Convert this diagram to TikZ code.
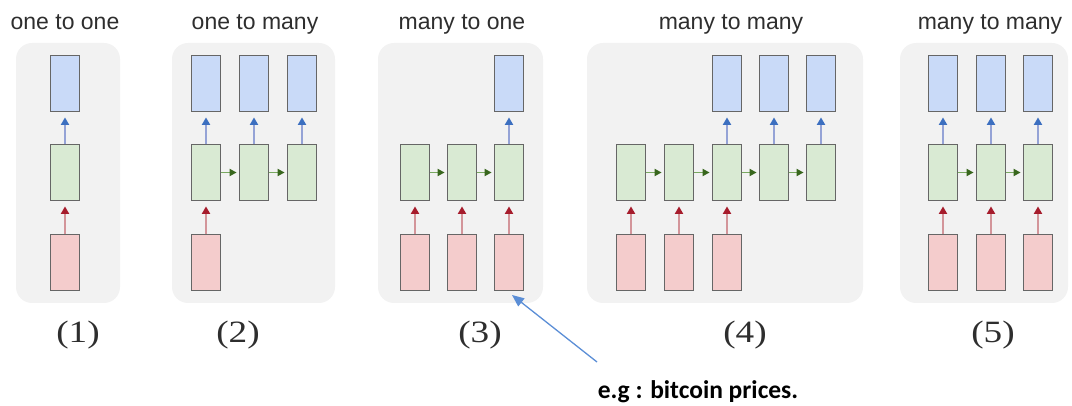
\documentclass[tikz,border=0pt]{standalone}
\usepackage{fontspec}
\newfontfamily\titlefont{Liberation Sans}
\newfontfamily\numfont{Liberation Serif}
\newfontfamily\notefont{Carlito}
\usetikzlibrary{arrows.meta,calc}

\definecolor{panelbg}{HTML}{F2F2F2}
\definecolor{cellline}{HTML}{666666}
\definecolor{outfill}{HTML}{C9DAF8}
\definecolor{hidfill}{HTML}{D9EAD3}
\definecolor{infill}{HTML}{F4CCCC}
\definecolor{outshaft}{HTML}{95A3D6}
\definecolor{outhead}{HTML}{3C6FC0}
\definecolor{inshaft}{HTML}{D3959A}
\definecolor{inhead}{HTML}{A61C2C}
\definecolor{hidshaft}{HTML}{78A860}
\definecolor{hidhead}{HTML}{38661D}
\definecolor{titlegray}{HTML}{2E2E2E}
\definecolor{noteblue}{HTML}{5B8ED6}

\tikzset{
  cell/.style={draw=cellline, line width=1.8pt, minimum width=29pt,
    minimum height=56pt, inner sep=0pt},
  outcell/.style={cell, fill=outfill},
  hidcell/.style={cell, fill=hidfill},
  incell/.style={cell, fill=infill},
  panel/.style={fill=panelbg, rounded corners=16pt},
  toout/.style={draw=outshaft, line width=1.9pt,
    -{Triangle[length=7.5pt,width=8pt,color=outhead]}, shorten >=5pt},
  fromin/.style={draw=inshaft, line width=1.9pt,
    -{Triangle[length=7.5pt,width=8pt,color=inhead]}, shorten >=5pt},
  recur/.style={draw=hidshaft, line width=1.9pt,
    -{Triangle[length=7pt,width=7pt,color=hidhead]}, shorten >=2pt},
  title/.style={anchor=base, text=titlegray, font=\titlefont\fontsize{23}{27}\selectfont},
  tag/.style={anchor=base, text=titlegray, font=\numfont\fontsize{31}{35}\selectfont},
  note/.style={anchor=base, text=black, font=\notefont\bfseries\fontsize{25.5}{30}\selectfont},
}

\begin{document}
\begin{tikzpicture}[x=1pt, y=-1pt]
\useasboundingbox (0,0) rectangle (1072,406);

% panel backgrounds
\fill[panel] (16,43) rectangle (120,303);
\fill[panel] (172,43) rectangle (335,303);
\fill[panel] (378,43) rectangle (543,303);
\fill[panel] (587,43) rectangle (863,303);
\fill[panel] (900,43) rectangle (1068,303);

% titles
\node[title] (t1) at (65,30) {one to one};
\node[title] (t2) at (255,30) {one to many};
\node[title] (t3) at (462,30) {many to one};
\node[title] (t4) at (731,30) {many to many};
\node[title] (t5) at (990,30) {many to many};

% (1) one to one
\node[outcell] (o1) at (65,83.5) {};
\node[hidcell] (h1) at (65,172.5) {};
\node[incell]  (i1) at (65,262.5) {};
\draw[toout] (h1) -- (o1);
\draw[fromin] (i1) -- (h1);

% (2) one to many
\foreach \x/\n in {206/a,254/b,302/c}{
  \node[outcell] (o2\n) at (\x,83.5) {};
  \node[hidcell] (h2\n) at (\x,172.5) {};
  \draw[toout] (h2\n) -- (o2\n);
}
\node[incell] (i2a) at (206,262.5) {};
\draw[fromin] (i2a) -- (h2a);
\draw[recur] (h2a) -- (h2b);
\draw[recur] (h2b) -- (h2c);

% (3) many to one
\foreach \x/\n in {415/a,462/b,509/c}{
  \node[hidcell] (h3\n) at (\x,172.5) {};
  \node[incell]  (i3\n) at (\x,262.5) {};
  \draw[fromin] (i3\n) -- (h3\n);
}
\node[outcell] (o3c) at (509,83.5) {};
\draw[toout] (h3c) -- (o3c);
\draw[recur] (h3a) -- (h3b);
\draw[recur] (h3b) -- (h3c);

% (4) many to many, delayed outputs
\foreach \x/\n in {631/a,679/b,727/c,774/d,821/e}{
  \node[hidcell] (h4\n) at (\x,172.5) {};
}
\foreach \x/\n in {631/a,679/b,727/c}{
  \node[incell] (i4\n) at (\x,262.5) {};
  \draw[fromin] (i4\n) -- (h4\n);
}
\foreach \x/\n in {727/c,774/d,821/e}{
  \node[outcell] (o4\n) at (\x,83.5) {};
  \draw[toout] (h4\n) -- (o4\n);
}
\draw[recur] (h4a) -- (h4b);
\draw[recur] (h4b) -- (h4c);
\draw[recur] (h4c) -- (h4d);
\draw[recur] (h4d) -- (h4e);

% (5) many to many, synced
\foreach \x/\n in {943/a,991/b,1038/c}{
  \node[outcell] (o5\n) at (\x,83.5) {};
  \node[hidcell] (h5\n) at (\x,172.5) {};
  \node[incell]  (i5\n) at (\x,262.5) {};
  \draw[toout] (h5\n) -- (o5\n);
  \draw[fromin] (i5\n) -- (h5\n);
}
\draw[recur] (h5a) -- (h5b);
\draw[recur] (h5b) -- (h5c);

% numbering
\node[tag] (n1) at (78,342)  {\scalebox{1.2}[1]{(1)}};
\node[tag] (n2) at (238,342) {\scalebox{1.2}[1]{(2)}};
\node[tag] (n3) at (480,342) {\scalebox{1.2}[1]{(3)}};
\node[tag] (n4) at (745,342) {\scalebox{1.2}[1]{(4)}};
\node[tag] (n5) at (993,342) {\scalebox{1.2}[1]{(5)}};

% annotation
\node[note] (eg) at (698,399) {e.g : bitcoin prices.};
\coordinate (egtail) at (597,362);
\coordinate (egtip) at (512,295);
\draw[noteblue, line width=1.3pt, -{Triangle[length=12pt,width=10pt]}] (egtail) -- (egtip);
\end{tikzpicture}
\end{document}
